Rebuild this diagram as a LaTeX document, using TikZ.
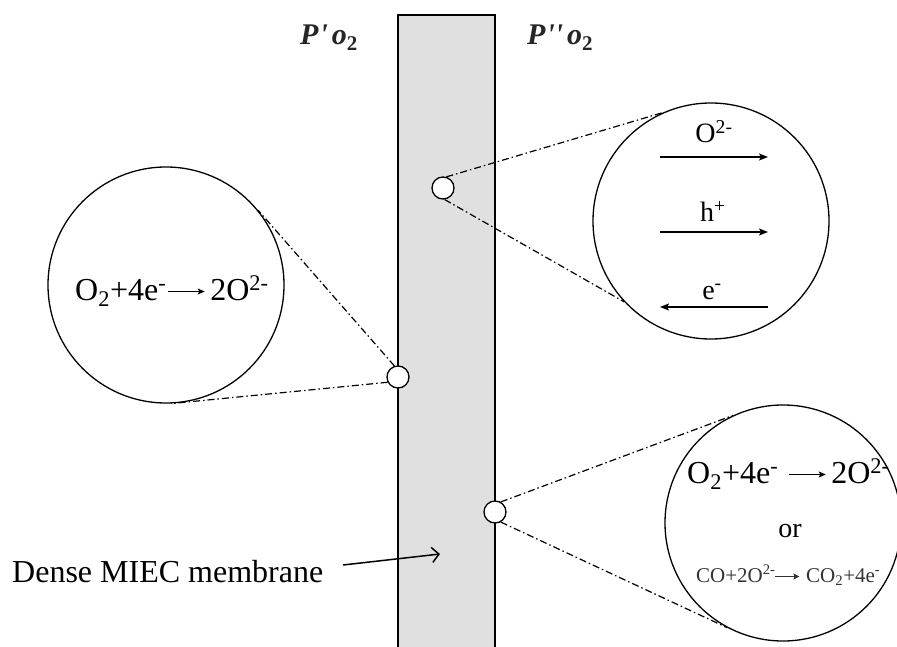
\documentclass[tikz,border=0pt]{standalone}
\usepackage{fontspec}
\setmainfont{Liberation Serif}
\usetikzlibrary{arrows.meta}
\definecolor{memgray}{HTML}{E0E0E0}
\definecolor{lblcol}{HTML}{262626}
\newcommand\longarr{\tikz[baseline=0pt]\draw[line width=1.1pt,-{Stealth[length=7pt,width=6pt,inset=1.5pt]}] (0pt,8.5pt)--(37pt,8.5pt);}
\newcommand\shortarr{\tikz[baseline=0pt]\draw[line width=1.6pt,-{Stealth[length=6pt,width=6pt,inset=1pt]}] (0pt,5.5pt)--(24pt,5.5pt);}
\begin{document}
\begin{tikzpicture}[x=1pt,y=-1pt,
  big/.style={draw, circle, line width=1.3pt, minimum size=236pt, inner sep=0pt},
  small/.style={draw, circle, fill=white, line width=1.3pt, minimum size=22pt, inner sep=0pt},
  zoomline/.style={line width=1.2pt, dash pattern=on 7pt off 3pt on 1.5pt off 3pt},
  txt/.style={inner sep=0pt, anchor=base},
  flow/.style={line width=1.5pt, -{Stealth[length=9pt,width=7pt,inset=2pt]}},
  plab/.style={inner sep=0pt, anchor=base west, text=lblcol, font=\fontsize{30}{32}\selectfont\bfseries\itshape}
]
\useasboundingbox (0,0) rectangle (897,647);
% membrane
\fill[memgray] (398,15) rectangle (495,647);
\draw[line width=2pt] (398,648) -- (398,15) -- (495,15) -- (495,648);
% partial pressure labels
\node[plab] (pl) at (300,45) {P\kern1pt\textquotesingle\kern4pt o\textsubscript{\upshape 2}};
\node[plab] (pr) at (527,45) {P\kern1pt\textquotesingle\textquotesingle\kern4pt o\textsubscript{\upshape 2}};
% big circles
\node[big] (L) at (166,285) {};
\node[big] (UR) at (711,221) {};
\node[big] (BR) at (783,523) {};
% small circles
\node[small] (s1) at (443,188) {};
\node[small] (s2) at (398,377) {};
\node[small] (s3) at (495,512) {};
% zoom lines
\draw[zoomline] (s2.108) -- (L.39);
\draw[zoomline] (s2.207) -- (L.-87);
\draw[zoomline] (s1.73) -- (UR.114);
\draw[zoomline] (s1.-82) -- (UR.-137);
\draw[zoomline] (s3.60) -- (BR.115);
\draw[zoomline] (s3.-60) -- (BR.-118);
% left circle text
\node[txt, anchor=base west, font=\fontsize{32}{34}\selectfont] (lt) at (75,300)
  {O\textsubscript{2}+4e\textsuperscript{-}\kern1pt\longarr\kern5pt 2O\textsuperscript{2-}};
% upper right circle content
\node[txt, font=\fontsize{28}{30}\selectfont] (ox) at (714,143) {O\textsuperscript{2-}};
\node[txt, font=\fontsize{28}{30}\selectfont] (hp) at (713,222) {h\textsuperscript{+}};
\node[txt, font=\fontsize{28}{30}\selectfont] (el) at (712,299) {e\textsuperscript{-}};
\coordinate (a1s) at (660,157); \coordinate (a1e) at (768,157);
\coordinate (a2s) at (660,232); \coordinate (a2e) at (768,232);
\coordinate (a3s) at (768,307); \coordinate (a3e) at (660,307);
\draw[flow] (a1s) -- (a1e);
\draw[flow] (a2s) -- (a2e);
\draw[flow] (a3s) -- (a3e);
% bottom right circle content
\node[txt, anchor=base west, font=\fontsize{32}{34}\selectfont] (b1) at (687,483)
  {O\textsubscript{2}+4e\textsuperscript{-}\kern10pt\longarr\kern5pt 2O\textsuperscript{2-}};
\node[txt, font=\fontsize{28}{30}\selectfont] (b2) at (790,537) {or};
\node[txt, anchor=base west, font=\fontsize{21}{24}\selectfont, text=black!80] (b3) at (696,582)
  {CO+2O\textsuperscript{2-}\kern-1pt\shortarr\kern6pt CO\textsubscript{2}+4e\textsuperscript{-}};
% membrane label
\node[txt, anchor=base west, font=\fontsize{32}{34}\selectfont] (ml) at (12,582) {Dense MIEC membrane};
\coordinate (mA) at (343,565);
\coordinate (mB) at (440,554);
\draw[line width=1.5pt, -{Straight Barb[length=7pt,width=15pt]}] (mA) -- (mB);
\end{tikzpicture}
\end{document}
